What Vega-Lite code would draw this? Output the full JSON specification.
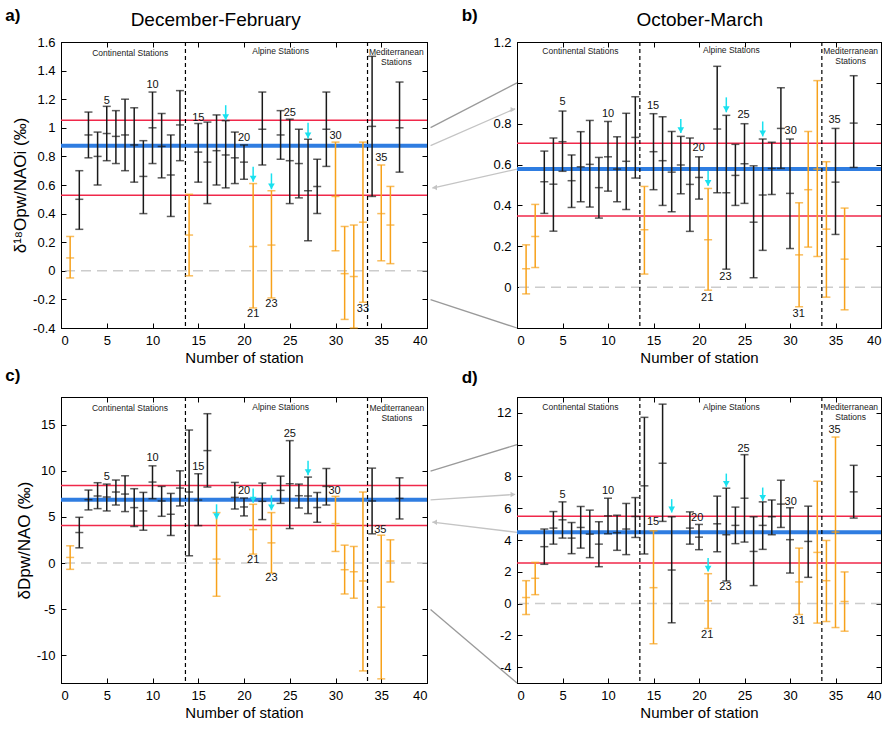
{
"$schema":"https://vega.github.io/schema/vega-lite/v6.json",
"autosize":{"type":"none"},
"padding":{"left":61,"top":42,"right":827,"bottom":689},
"background":"white",
"bounds":"flush",
"columns":2,
"spacing":{"row":69,"column":90},
"config":{
 "view":{"stroke":"#000","strokeWidth":1},
 "axis":{"tickSize":-5,"tickColor":"#000","domainColor":"#000","labelFont":"Liberation Sans","labelFontSize":13,"labelColor":"#000","titleFont":"Liberation Sans","titleFontSize":15,"titleFontWeight":"normal","titleColor":"#000","grid":false,"labelPadding":11,"titlePadding":3}
},
"datasets":{
 "a_b":[{"n":1,"lo":-0.05,"mid":0.09,"hi":0.24,"g":"o"},{"n":2,"lo":0.29,"mid":0.5,"hi":0.7,"g":"k"},{"n":3,"lo":0.79,"mid":0.95,"hi":1.11,"g":"k"},{"n":4,"lo":0.6,"mid":0.8,"hi":0.97,"g":"k"},{"n":5,"lo":0.77,"mid":0.96,"hi":1.15,"g":"k"},{"n":6,"lo":0.75,"mid":0.94,"hi":1.12,"g":"k"},{"n":7,"lo":0.7,"mid":0.95,"hi":1.2,"g":"k"},{"n":8,"lo":0.62,"mid":0.88,"hi":1.14,"g":"k"},{"n":9,"lo":0.4,"mid":0.66,"hi":0.91,"g":"k"},{"n":10,"lo":0.75,"mid":1.0,"hi":1.25,"g":"k"},{"n":11,"lo":0.65,"mid":0.87,"hi":1.1,"g":"k"},{"n":12,"lo":0.38,"mid":0.67,"hi":0.95,"g":"k"},{"n":13,"lo":0.77,"mid":1.02,"hi":1.26,"g":"k"},{"n":14,"lo":-0.035,"mid":0.25,"hi":0.535,"g":"o"},{"n":15,"lo":0.62,"mid":0.83,"hi":1.03,"g":"k"},{"n":16,"lo":0.47,"mid":0.76,"hi":1.04,"g":"k"},{"n":17,"lo":0.6,"mid":0.84,"hi":1.09,"g":"k"},{"n":18,"lo":0.58,"mid":0.81,"hi":1.05,"g":"k"},{"n":19,"lo":0.61,"mid":0.79,"hi":0.97,"g":"k"},{"n":20,"lo":0.64,"mid":0.76,"hi":0.88,"g":"k"},{"n":21,"lo":-0.26,"mid":0.17,"hi":0.61,"g":"o"},{"n":22,"lo":0.74,"mid":0.99,"hi":1.25,"g":"k"},{"n":23,"lo":-0.19,"mid":0.18,"hi":0.56,"g":"o"},{"n":24,"lo":0.78,"mid":0.95,"hi":1.12,"g":"k"},{"n":25,"lo":0.47,"mid":0.77,"hi":1.06,"g":"k"},{"n":26,"lo":0.51,"mid":0.75,"hi":0.99,"g":"k"},{"n":27,"lo":0.21,"mid":0.56,"hi":0.92,"g":"k"},{"n":28,"lo":0.4,"mid":0.59,"hi":0.78,"g":"k"},{"n":29,"lo":0.73,"mid":0.99,"hi":1.25,"g":"k"},{"n":30,"lo":0.14,"mid":0.52,"hi":0.9,"g":"o"},{"n":31,"lo":-0.34,"mid":-0.02,"hi":0.31,"g":"o"},{"n":32,"lo":-0.4,"mid":-0.04,"hi":0.32,"g":"o"},{"n":33,"lo":-0.22,"mid":0.34,"hi":0.9,"g":"o"},{"n":34,"lo":0.52,"mid":1.01,"hi":1.5,"g":"k"},{"n":35,"lo":0.07,"mid":0.4,"hi":0.74,"g":"o"},{"n":36,"lo":0.05,"mid":0.32,"hi":0.59,"g":"o"},{"n":37,"lo":0.69,"mid":1.0,"hi":1.32,"g":"k"}],
 "a_h":[{"y":0,"t":"zero"},{"y":1.053,"t":"red"},{"y":0.528,"t":"red"},{"y":0.874,"t":"blue"}],
 "a_v":[{"x":13.6},{"x":33.5}],
 "a_l":[{"x":5,"y":1.19,"s":"5"},{"x":10,"y":1.3,"s":"10"},{"x":15,"y":1.07,"s":"15"},{"x":20,"y":0.93,"s":"20"},{"x":25,"y":1.105,"s":"25"},{"x":21,"y":-0.3,"s":"21"},{"x":23,"y":-0.23,"s":"23"},{"x":30,"y":0.944,"s":"30"},{"x":33,"y":-0.27,"s":"33"},{"x":35,"y":0.79,"s":"35"}],
 "a_a":[{"x":18,"y1":1.158,"y2":1.053},{"x":21,"y1":0.728,"y2":0.623},{"x":23,"y1":0.681,"y2":0.57},{"x":27,"y1":1.035,"y2":0.926}],
 "a_r":[{"x":7.56,"y":1.525,"s":"Continental Stations"},{"x":24.0,"y":1.535,"s":"Alpine Stations"},{"x":36.65,"y":1.53,"s":"Mediterranean"},{"x":36.65,"y":1.46,"s":"Stations"}],
 "b_b":[{"n":1,"lo":-0.033,"mid":0.09,"hi":0.207,"g":"o"},{"n":2,"lo":0.096,"mid":0.248,"hi":0.405,"g":"o"},{"n":3,"lo":0.361,"mid":0.516,"hi":0.666,"g":"k"},{"n":4,"lo":0.274,"mid":0.504,"hi":0.73,"g":"k"},{"n":5,"lo":0.567,"mid":0.712,"hi":0.862,"g":"k"},{"n":6,"lo":0.39,"mid":0.521,"hi":0.647,"g":"k"},{"n":7,"lo":0.418,"mid":0.589,"hi":0.761,"g":"k"},{"n":8,"lo":0.392,"mid":0.601,"hi":0.816,"g":"k"},{"n":9,"lo":0.338,"mid":0.487,"hi":0.635,"g":"k"},{"n":10,"lo":0.47,"mid":0.638,"hi":0.811,"g":"k"},{"n":11,"lo":0.418,"mid":0.578,"hi":0.736,"g":"k"},{"n":12,"lo":0.38,"mid":0.616,"hi":0.851,"g":"k"},{"n":13,"lo":0.534,"mid":0.733,"hi":0.932,"g":"k"},{"n":14,"lo":0.064,"mid":0.281,"hi":0.493,"g":"o"},{"n":15,"lo":0.477,"mid":0.663,"hi":0.849,"g":"k"},{"n":16,"lo":0.4,"mid":0.619,"hi":0.834,"g":"k"},{"n":17,"lo":0.369,"mid":0.563,"hi":0.762,"g":"k"},{"n":18,"lo":0.457,"mid":0.598,"hi":0.738,"g":"k"},{"n":19,"lo":0.273,"mid":0.503,"hi":0.73,"g":"k"},{"n":20,"lo":0.431,"mid":0.537,"hi":0.638,"g":"k"},{"n":21,"lo":-0.015,"mid":0.232,"hi":0.483,"g":"o"},{"n":22,"lo":0.462,"mid":0.774,"hi":1.081,"g":"k"},{"n":23,"lo":0.088,"mid":0.462,"hi":0.841,"g":"k"},{"n":24,"lo":0.4,"mid":0.547,"hi":0.699,"g":"k"},{"n":25,"lo":0.41,"mid":0.604,"hi":0.8,"g":"k"},{"n":26,"lo":0.046,"mid":0.318,"hi":0.594,"g":"k"},{"n":27,"lo":0.18,"mid":0.451,"hi":0.725,"g":"k"},{"n":28,"lo":0.454,"mid":0.581,"hi":0.709,"g":"k"},{"n":29,"lo":0.581,"mid":0.777,"hi":0.976,"g":"k"},{"n":30,"lo":0.189,"mid":0.459,"hi":0.725,"g":"k"},{"n":31,"lo":-0.096,"mid":0.158,"hi":0.413,"g":"o"},{"n":32,"lo":0.196,"mid":0.477,"hi":0.762,"g":"o"},{"n":33,"lo":0.15,"mid":0.578,"hi":1.011,"g":"o"},{"n":34,"lo":-0.049,"mid":0.284,"hi":0.614,"g":"o"},{"n":35,"lo":0.258,"mid":0.514,"hi":0.777,"g":"k"},{"n":36,"lo":-0.111,"mid":0.137,"hi":0.387,"g":"o"},{"n":37,"lo":0.586,"mid":0.803,"hi":1.035,"g":"k"}],
 "b_h":[{"y":0,"t":"zero"},{"y":0.704,"t":"red"},{"y":0.348,"t":"red"},{"y":0.578,"t":"blue"}],
 "b_v":[{"x":13.5},{"x":33.5}],
 "b_l":[{"x":5,"y":0.904,"s":"5"},{"x":10,"y":0.849,"s":"10"},{"x":14.95,"y":0.888,"s":"15"},{"x":19.96,"y":0.679,"s":"20"},{"x":24.9,"y":0.844,"s":"25"},{"x":20.9,"y":-0.054,"s":"21"},{"x":22.9,"y":0.049,"s":"23"},{"x":30.07,"y":0.766,"s":"30"},{"x":30.95,"y":-0.132,"s":"31"},{"x":34.9,"y":0.818,"s":"35"}],
 "b_a":[{"x":18,"y1":0.823,"y2":0.754},{"x":21,"y1":0.57,"y2":0.496},{"x":23,"y1":0.929,"y2":0.856},{"x":27,"y1":0.811,"y2":0.738}],
 "b_r":[{"x":6.96,"y":1.158,"s":"Continental Stations"},{"x":23.55,"y":1.159,"s":"Alpine Stations"},{"x":36.67,"y":1.158,"s":"Mediterranean"},{"x":36.67,"y":1.105,"s":"Stations"}],
 "b_gd":[{"x1":-9.5,"y1":0.781,"x2":0,"y2":1.0},{"x1":-9.5,"y1":-0.061,"x2":0,"y2":-0.2}],
 "b_gl":[{"x1":-9.5,"y1":0.693,"x2":-0.2,"y2":0.874},{"x1":0,"y1":0.578,"x2":-9.3,"y2":0.485}],
 "b_ghr":[{"x":-0.45,"y":0.869}],
 "b_ghl":[{"x":-9.05,"y":0.488}],
 "c_b":[{"n":1,"lo":-0.68,"mid":0.61,"hi":1.87,"g":"o"},{"n":2,"lo":1.65,"mid":3.31,"hi":4.96,"g":"k"},{"n":3,"lo":5.76,"mid":6.87,"hi":7.91,"g":"k"},{"n":4,"lo":5.9,"mid":7.27,"hi":8.71,"g":"k"},{"n":5,"lo":5.65,"mid":7.16,"hi":8.56,"g":"k"},{"n":6,"lo":6.29,"mid":7.7,"hi":9.0,"g":"k"},{"n":7,"lo":5.58,"mid":7.48,"hi":9.46,"g":"k"},{"n":8,"lo":3.96,"mid":6.01,"hi":8.06,"g":"k"},{"n":9,"lo":3.56,"mid":5.65,"hi":7.66,"g":"k"},{"n":10,"lo":6.98,"mid":8.78,"hi":10.54,"g":"k"},{"n":11,"lo":5.07,"mid":6.73,"hi":8.31,"g":"k"},{"n":12,"lo":2.99,"mid":5.29,"hi":7.55,"g":"k"},{"n":13,"lo":6.19,"mid":8.13,"hi":10.0,"g":"k"},{"n":14,"lo":0.79,"mid":7.7,"hi":14.42,"g":"k"},{"n":15,"lo":4.06,"mid":6.83,"hi":9.68,"g":"k"},{"n":16,"lo":8.24,"mid":12.19,"hi":16.19,"g":"k"},{"n":17,"lo":-3.6,"mid":0.43,"hi":5.47,"g":"o"},{"n":19,"lo":5.86,"mid":7.12,"hi":8.74,"g":"k"},{"n":20,"lo":5.11,"mid":6.08,"hi":7.05,"g":"k"},{"n":21,"lo":0.97,"mid":3.63,"hi":6.37,"g":"o"},{"n":22,"lo":4.71,"mid":6.69,"hi":8.67,"g":"k"},{"n":23,"lo":-1.08,"mid":2.19,"hi":5.47,"g":"o"},{"n":24,"lo":6.47,"mid":7.88,"hi":9.42,"g":"k"},{"n":25,"lo":3.74,"mid":8.6,"hi":13.27,"g":"k"},{"n":26,"lo":5.97,"mid":7.3,"hi":8.56,"g":"k"},{"n":27,"lo":5.36,"mid":7.27,"hi":9.32,"g":"k"},{"n":28,"lo":4.42,"mid":6.01,"hi":7.66,"g":"k"},{"n":29,"lo":6.29,"mid":8.31,"hi":10.25,"g":"k"},{"n":30,"lo":1.26,"mid":4.28,"hi":7.23,"g":"o"},{"n":31,"lo":-3.35,"mid":-0.72,"hi":1.94,"g":"o"},{"n":32,"lo":-3.81,"mid":-0.94,"hi":1.8,"g":"o"},{"n":33,"lo":-11.69,"mid":-1.94,"hi":7.7,"g":"o"},{"n":34,"lo":3.17,"mid":6.73,"hi":10.29,"g":"k"},{"n":35,"lo":-12.55,"mid":-4.78,"hi":3.02,"g":"o"},{"n":36,"lo":-2.05,"mid":0.22,"hi":2.52,"g":"o"},{"n":37,"lo":4.78,"mid":7.01,"hi":9.24,"g":"k"}],
 "c_h":[{"y":0,"t":"zero"},{"y":8.42,"t":"red"},{"y":4.06,"t":"red"},{"y":6.87,"t":"blue"}],
 "c_v":[{"x":13.6},{"x":33.5}],
 "c_l":[{"x":5,"y":9.35,"s":"5"},{"x":10,"y":11.44,"s":"10"},{"x":15,"y":10.43,"s":"15"},{"x":20,"y":7.8,"s":"20"},{"x":25,"y":14.03,"s":"25"},{"x":21,"y":0.32,"s":"21"},{"x":23,"y":-1.65,"s":"23"},{"x":29.9,"y":7.8,"s":"30"},{"x":34.9,"y":3.6,"s":"35"}],
 "c_a":[{"x":17,"y1":6.37,"y2":4.75},{"x":21,"y1":8.09,"y2":6.55},{"x":23,"y1":7.34,"y2":5.72},{"x":27,"y1":11.1,"y2":9.53}],
 "c_r":[{"x":7.54,"y":16.8,"s":"Continental Stations"},{"x":24.0,"y":16.94,"s":"Alpine Stations"},{"x":36.7,"y":16.8,"s":"Mediterranean"},{"x":36.7,"y":15.72,"s":"Stations"}],
 "d_b":[{"n":1,"lo":-0.69,"mid":0.38,"hi":1.44,"g":"o"},{"n":2,"lo":0.56,"mid":1.59,"hi":2.59,"g":"o"},{"n":3,"lo":2.47,"mid":3.58,"hi":4.69,"g":"k"},{"n":4,"lo":3.74,"mid":4.75,"hi":5.79,"g":"k"},{"n":5,"lo":4.12,"mid":5.27,"hi":6.4,"g":"k"},{"n":6,"lo":3.14,"mid":4.12,"hi":5.1,"g":"k"},{"n":7,"lo":3.49,"mid":4.79,"hi":6.11,"g":"k"},{"n":8,"lo":2.89,"mid":4.37,"hi":5.88,"g":"k"},{"n":9,"lo":2.32,"mid":3.74,"hi":5.15,"g":"k"},{"n":10,"lo":4.39,"mid":5.52,"hi":6.63,"g":"k"},{"n":11,"lo":3.35,"mid":4.46,"hi":5.56,"g":"k"},{"n":12,"lo":3.08,"mid":4.69,"hi":6.3,"g":"k"},{"n":13,"lo":4.16,"mid":5.48,"hi":6.67,"g":"k"},{"n":14,"lo":3.12,"mid":7.41,"hi":11.72,"g":"k"},{"n":15,"lo":-2.53,"mid":1.0,"hi":4.58,"g":"o"},{"n":16,"lo":5.17,"mid":8.83,"hi":12.55,"g":"k"},{"n":17,"lo":-1.21,"mid":2.11,"hi":5.46,"g":"k"},{"n":19,"lo":3.74,"mid":4.75,"hi":5.77,"g":"k"},{"n":20,"lo":3.39,"mid":4.18,"hi":4.98,"g":"k"},{"n":21,"lo":-1.57,"mid":0.17,"hi":1.88,"g":"o"},{"n":22,"lo":3.26,"mid":5.02,"hi":6.76,"g":"k"},{"n":23,"lo":1.42,"mid":4.33,"hi":7.26,"g":"k"},{"n":24,"lo":3.77,"mid":4.92,"hi":6.07,"g":"k"},{"n":25,"lo":3.87,"mid":6.63,"hi":9.37,"g":"k"},{"n":26,"lo":1.13,"mid":3.28,"hi":5.46,"g":"k"},{"n":27,"lo":3.41,"mid":4.92,"hi":6.4,"g":"k"},{"n":28,"lo":4.33,"mid":5.46,"hi":6.51,"g":"k"},{"n":29,"lo":4.79,"mid":6.26,"hi":7.76,"g":"k"},{"n":30,"lo":1.92,"mid":4.02,"hi":6.03,"g":"k"},{"n":31,"lo":-0.69,"mid":1.36,"hi":3.49,"g":"o"},{"n":32,"lo":1.65,"mid":3.91,"hi":6.13,"g":"k"},{"n":33,"lo":-1.23,"mid":3.22,"hi":7.7,"g":"o"},{"n":34,"lo":-1.13,"mid":1.44,"hi":3.97,"g":"o"},{"n":35,"lo":-1.51,"mid":4.5,"hi":10.48,"g":"o"},{"n":36,"lo":-1.74,"mid":0.13,"hi":1.99,"g":"o"},{"n":37,"lo":5.38,"mid":7.03,"hi":8.7,"g":"k"}],
 "d_h":[{"y":0,"t":"zero"},{"y":5.5,"t":"red"},{"y":2.55,"t":"red"},{"y":4.48,"t":"blue"}],
 "d_v":[{"x":13.5},{"x":33.5}],
 "d_l":[{"x":5,"y":6.82,"s":"5"},{"x":10,"y":7.09,"s":"10"},{"x":14.95,"y":5.15,"s":"15"},{"x":19.8,"y":5.4,"s":"20"},{"x":24.9,"y":9.75,"s":"25"},{"x":20.9,"y":-1.99,"s":"21"},{"x":22.9,"y":1.03,"s":"23"},{"x":30.07,"y":6.42,"s":"30"},{"x":30.95,"y":-1.11,"s":"31"},{"x":34.9,"y":10.9,"s":"35"}],
 "d_a":[{"x":17,"y1":6.57,"y2":5.73},{"x":21,"y1":2.87,"y2":2.01},{"x":23,"y1":8.18,"y2":7.34},{"x":27,"y1":7.3,"y2":6.46}],
 "d_r":[{"x":6.96,"y":12.38,"s":"Continental Stations"},{"x":23.55,"y":12.38,"s":"Alpine Stations"},{"x":36.67,"y":12.38,"s":"Mediterranean"},{"x":36.67,"y":11.76,"s":"Stations"}],
 "d_gd":[{"x1":-9.5,"y1":8.34,"x2":0,"y2":10},{"x1":-9.5,"y1":-0.38,"x2":0,"y2":-5}],
 "d_gl":[{"x1":-9.5,"y1":6.52,"x2":-0.2,"y2":6.87},{"x1":0,"y1":4.48,"x2":-9.3,"y2":5.13}],
 "d_ghr":[{"x":-0.45,"y":6.86}],
 "d_ghl":[{"x":-9.05,"y":5.12}]
},
"concat":[
{"width":366,"height":286,"resolve":{"axis":{"x":"independent","y":"independent"}},
"layer":[
 {"data":{"name":"a_h"},"transform":[{"filter":"datum.t=='zero'"}],"mark":{"type":"rule","color":"#cccccc","strokeWidth":1.5,"strokeDash":[10,6]},"encoding":{"y":{"field":"y","type":"quantitative","axis":null}}},
 {"data":{"name":"a_h"},"transform":[{"filter":"datum.t=='red'"}],"mark":{"type":"rule","color":"#f0284a","strokeWidth":1.5},"encoding":{"y":{"field":"y","type":"quantitative","axis":null}}},
 {"data":{"name":"a_h"},"transform":[{"filter":"datum.t=='blue'"}],"mark":{"type":"rule","color":"#2f7de1","strokeWidth":4},"encoding":{"y":{"field":"y","type":"quantitative","axis":null}}},
 {"data":{"name":"a_v"},"mark":{"type":"rule","color":"#000","strokeWidth":1.2,"strokeDash":[4,3]},"encoding":{"x":{"field":"x","type":"quantitative","axis":null}}},
 {"data":{"name":"a_b"},"mark":{"type":"rule","strokeWidth":1.5},"encoding":{"x":{"field":"n","type":"quantitative","scale":{"domain":[0,40],"nice":false},"axis":{"values":[0,5,10,15,20,25,30,35,40],"title":"Number of station"}},"y":{"field":"lo","type":"quantitative","scale":{"domain":[-0.4,1.6],"nice":false},"axis":{"values":[-0.4,-0.2,0,0.2,0.4,0.6,0.8,1,1.2,1.4,1.6],"labelExpr":"''+datum.value","title":"δ¹⁸Opw/NAOi (‰)","titleFontSize":17}},"y2":{"field":"hi"},"color":{"field":"g","type":"nominal","scale":{"domain":["k","o"],"range":["#1a1a1a","#f7a11a"]},"legend":null}}},
 {"data":{"name":"a_b"},"mark":{"type":"tick","orient":"horizontal","size":8,"thickness":1.5},"encoding":{"x":{"field":"n","type":"quantitative","axis":null},"y":{"field":"lo","type":"quantitative","axis":null},"color":{"field":"g","type":"nominal","legend":null}}},
 {"data":{"name":"a_b"},"mark":{"type":"tick","orient":"horizontal","size":8,"thickness":1.5},"encoding":{"x":{"field":"n","type":"quantitative","axis":null},"y":{"field":"hi","type":"quantitative","axis":null},"color":{"field":"g","type":"nominal","legend":null}}},
 {"data":{"name":"a_b"},"mark":{"type":"tick","orient":"horizontal","size":8,"thickness":1.5},"encoding":{"x":{"field":"n","type":"quantitative","axis":{"orient":"top","values":[0,5,10,15,20,25,30,35,40],"labels":false,"title":null}},"y":{"field":"mid","type":"quantitative","axis":{"orient":"right","values":[-0.4,-0.2,0,0.2,0.4,0.6,0.8,1,1.2,1.4,1.6],"labels":false,"title":null}},"color":{"field":"g","type":"nominal","legend":null}}},
 {"data":{"name":"a_a"},"mark":{"type":"rule","color":"#19e1ef","strokeWidth":1.5},"encoding":{"x":{"field":"x","type":"quantitative","axis":null},"y":{"field":"y1","type":"quantitative","axis":null},"y2":{"field":"y2"}}},
 {"data":{"name":"a_a"},"mark":{"type":"point","shape":"triangle-down","filled":true,"color":"#19e1ef","opacity":1,"size":45,"yOffset":-3},"encoding":{"x":{"field":"x","type":"quantitative","axis":null},"y":{"field":"y2","type":"quantitative","axis":null}}},
 {"data":{"name":"a_l"},"mark":{"type":"text","font":"Liberation Sans","fontSize":11,"color":"#111","clip":false},"encoding":{"x":{"field":"x","type":"quantitative","axis":null},"y":{"field":"y","type":"quantitative","axis":null},"text":{"field":"s"}}},
 {"data":{"name":"a_r"},"mark":{"type":"text","font":"Liberation Sans","fontSize":8.5,"color":"#222","clip":false},"encoding":{"x":{"field":"x","type":"quantitative","axis":null},"y":{"field":"y","type":"quantitative","axis":null},"text":{"field":"s"}}},
 {"data":{"values":[{"x":-6.1,"y":1.78,"s":"a)"}]},"mark":{"type":"text","font":"Liberation Sans","fontSize":17,"fontWeight":"bold","align":"left","color":"#000","clip":false},"encoding":{"x":{"field":"x","type":"quantitative","axis":null},"y":{"field":"y","type":"quantitative","axis":null},"text":{"field":"s"}}},
 {"data":{"values":[{"x":16.9,"y":1.754,"s":"December-February"}]},"mark":{"type":"text","font":"Liberation Sans","fontSize":19,"color":"#000","clip":false},"encoding":{"x":{"field":"x","type":"quantitative","axis":null},"y":{"field":"y","type":"quantitative","axis":null},"text":{"field":"s"}}}
]},
{"width":364,"height":286,"resolve":{"axis":{"x":"independent","y":"independent"}},
"layer":[
 {"data":{"name":"b_gd"},"mark":{"type":"rule","color":"#9a9a9a","strokeWidth":1.3,"clip":false},"encoding":{"x":{"field":"x1","type":"quantitative","axis":null},"x2":{"field":"x2"},"y":{"field":"y1","type":"quantitative","axis":null},"y2":{"field":"y2"}}},
 {"data":{"name":"b_gl"},"mark":{"type":"rule","color":"#c4c4c4","strokeWidth":1.3,"clip":false},"encoding":{"x":{"field":"x1","type":"quantitative","axis":null},"x2":{"field":"x2"},"y":{"field":"y1","type":"quantitative","axis":null},"y2":{"field":"y2"}}},
 {"data":{"name":"b_ghr"},"mark":{"type":"point","shape":"triangle-right","filled":true,"color":"#c4c4c4","opacity":1,"size":30,"clip":false},"encoding":{"x":{"field":"x","type":"quantitative","axis":null},"y":{"field":"y","type":"quantitative","axis":null}}},
 {"data":{"name":"b_ghl"},"mark":{"type":"point","shape":"triangle-left","filled":true,"color":"#c4c4c4","opacity":1,"size":30,"clip":false},"encoding":{"x":{"field":"x","type":"quantitative","axis":null},"y":{"field":"y","type":"quantitative","axis":null}}},
 {"data":{"name":"b_h"},"transform":[{"filter":"datum.t=='zero'"}],"mark":{"type":"rule","color":"#cccccc","strokeWidth":1.5,"strokeDash":[10,6]},"encoding":{"y":{"field":"y","type":"quantitative","axis":null}}},
 {"data":{"name":"b_h"},"transform":[{"filter":"datum.t=='red'"}],"mark":{"type":"rule","color":"#f0284a","strokeWidth":1.5},"encoding":{"y":{"field":"y","type":"quantitative","axis":null}}},
 {"data":{"name":"b_h"},"transform":[{"filter":"datum.t=='blue'"}],"mark":{"type":"rule","color":"#2f7de1","strokeWidth":4},"encoding":{"y":{"field":"y","type":"quantitative","axis":null}}},
 {"data":{"name":"b_v"},"mark":{"type":"rule","color":"#000","strokeWidth":1.2,"strokeDash":[4,3]},"encoding":{"x":{"field":"x","type":"quantitative","axis":null}}},
 {"data":{"name":"b_b"},"mark":{"type":"rule","strokeWidth":1.5},"encoding":{"x":{"field":"n","type":"quantitative","scale":{"domain":[0,40],"nice":false},"axis":{"values":[0,5,10,15,20,25,30,35,40],"title":"Number of station"}},"y":{"field":"lo","type":"quantitative","scale":{"domain":[-0.2,1.2],"nice":false},"axis":{"values":[-0.2,0,0.2,0.4,0.6,0.8,1,1.2],"labelExpr":"datum.value==1||datum.value==-0.2?'':''+datum.value","title":null}},"y2":{"field":"hi"},"color":{"field":"g","type":"nominal","scale":{"domain":["k","o"],"range":["#1a1a1a","#f7a11a"]},"legend":null}}},
 {"data":{"name":"b_b"},"mark":{"type":"tick","orient":"horizontal","size":8,"thickness":1.5},"encoding":{"x":{"field":"n","type":"quantitative","axis":null},"y":{"field":"lo","type":"quantitative","axis":null},"color":{"field":"g","type":"nominal","legend":null}}},
 {"data":{"name":"b_b"},"mark":{"type":"tick","orient":"horizontal","size":8,"thickness":1.5},"encoding":{"x":{"field":"n","type":"quantitative","axis":null},"y":{"field":"hi","type":"quantitative","axis":null},"color":{"field":"g","type":"nominal","legend":null}}},
 {"data":{"name":"b_b"},"mark":{"type":"tick","orient":"horizontal","size":8,"thickness":1.5},"encoding":{"x":{"field":"n","type":"quantitative","axis":{"orient":"top","values":[0,5,10,15,20,25,30,35,40],"labels":false,"title":null}},"y":{"field":"mid","type":"quantitative","axis":{"orient":"right","values":[-0.2,0,0.2,0.4,0.6,0.8,1,1.2],"labels":false,"title":null}},"color":{"field":"g","type":"nominal","legend":null}}},
 {"data":{"name":"b_a"},"mark":{"type":"rule","color":"#19e1ef","strokeWidth":1.5},"encoding":{"x":{"field":"x","type":"quantitative","axis":null},"y":{"field":"y1","type":"quantitative","axis":null},"y2":{"field":"y2"}}},
 {"data":{"name":"b_a"},"mark":{"type":"point","shape":"triangle-down","filled":true,"color":"#19e1ef","opacity":1,"size":45,"yOffset":-3},"encoding":{"x":{"field":"x","type":"quantitative","axis":null},"y":{"field":"y2","type":"quantitative","axis":null}}},
 {"data":{"name":"b_l"},"mark":{"type":"text","font":"Liberation Sans","fontSize":11,"color":"#111","clip":false},"encoding":{"x":{"field":"x","type":"quantitative","axis":null},"y":{"field":"y","type":"quantitative","axis":null},"text":{"field":"s"}}},
 {"data":{"name":"b_r"},"mark":{"type":"text","font":"Liberation Sans","fontSize":8.5,"color":"#222","clip":false},"encoding":{"x":{"field":"x","type":"quantitative","axis":null},"y":{"field":"y","type":"quantitative","axis":null},"text":{"field":"s"}}},
 {"data":{"values":[{"x":-6.08,"y":1.329,"s":"b)"}]},"mark":{"type":"text","font":"Liberation Sans","fontSize":17,"fontWeight":"bold","align":"left","color":"#000","clip":false},"encoding":{"x":{"field":"x","type":"quantitative","axis":null},"y":{"field":"y","type":"quantitative","axis":null},"text":{"field":"s"}}},
 {"data":{"values":[{"x":20.08,"y":1.308,"s":"October-March"}]},"mark":{"type":"text","font":"Liberation Sans","fontSize":19,"color":"#000","clip":false},"encoding":{"x":{"field":"x","type":"quantitative","axis":null},"y":{"field":"y","type":"quantitative","axis":null},"text":{"field":"s"}}}
]},
{"width":366,"height":286,"resolve":{"axis":{"x":"independent","y":"independent"}},
"layer":[
 {"data":{"name":"c_h"},"transform":[{"filter":"datum.t=='zero'"}],"mark":{"type":"rule","color":"#cccccc","strokeWidth":1.5,"strokeDash":[10,6]},"encoding":{"y":{"field":"y","type":"quantitative","axis":null}}},
 {"data":{"name":"c_h"},"transform":[{"filter":"datum.t=='red'"}],"mark":{"type":"rule","color":"#f0284a","strokeWidth":1.5},"encoding":{"y":{"field":"y","type":"quantitative","axis":null}}},
 {"data":{"name":"c_h"},"transform":[{"filter":"datum.t=='blue'"}],"mark":{"type":"rule","color":"#2f7de1","strokeWidth":4},"encoding":{"y":{"field":"y","type":"quantitative","axis":null}}},
 {"data":{"name":"c_v"},"mark":{"type":"rule","color":"#000","strokeWidth":1.2,"strokeDash":[4,3]},"encoding":{"x":{"field":"x","type":"quantitative","axis":null}}},
 {"data":{"name":"c_b"},"mark":{"type":"rule","strokeWidth":1.5},"encoding":{"x":{"field":"n","type":"quantitative","scale":{"domain":[0,40],"nice":false},"axis":{"values":[0,5,10,15,20,25,30,35,40],"title":"Number of station"}},"y":{"field":"lo","type":"quantitative","scale":{"domain":[-13,18],"nice":false},"axis":{"values":[-10,-5,0,5,10,15],"labelExpr":"''+datum.value","title":"δDpw/NAO (‰)","titleFontSize":17}},"y2":{"field":"hi"},"color":{"field":"g","type":"nominal","scale":{"domain":["k","o"],"range":["#1a1a1a","#f7a11a"]},"legend":null}}},
 {"data":{"name":"c_b"},"mark":{"type":"tick","orient":"horizontal","size":8,"thickness":1.5},"encoding":{"x":{"field":"n","type":"quantitative","axis":null},"y":{"field":"lo","type":"quantitative","axis":null},"color":{"field":"g","type":"nominal","legend":null}}},
 {"data":{"name":"c_b"},"mark":{"type":"tick","orient":"horizontal","size":8,"thickness":1.5},"encoding":{"x":{"field":"n","type":"quantitative","axis":null},"y":{"field":"hi","type":"quantitative","axis":null},"color":{"field":"g","type":"nominal","legend":null}}},
 {"data":{"name":"c_b"},"mark":{"type":"tick","orient":"horizontal","size":8,"thickness":1.5},"encoding":{"x":{"field":"n","type":"quantitative","axis":{"orient":"top","values":[0,5,10,15,20,25,30,35,40],"labels":false,"title":null}},"y":{"field":"mid","type":"quantitative","axis":{"orient":"right","values":[-10,-5,0,5,10,15],"labels":false,"title":null}},"color":{"field":"g","type":"nominal","legend":null}}},
 {"data":{"name":"c_a"},"mark":{"type":"rule","color":"#19e1ef","strokeWidth":1.5},"encoding":{"x":{"field":"x","type":"quantitative","axis":null},"y":{"field":"y1","type":"quantitative","axis":null},"y2":{"field":"y2"}}},
 {"data":{"name":"c_a"},"mark":{"type":"point","shape":"triangle-down","filled":true,"color":"#19e1ef","opacity":1,"size":45,"yOffset":-3},"encoding":{"x":{"field":"x","type":"quantitative","axis":null},"y":{"field":"y2","type":"quantitative","axis":null}}},
 {"data":{"name":"c_l"},"mark":{"type":"text","font":"Liberation Sans","fontSize":11,"color":"#111","clip":false},"encoding":{"x":{"field":"x","type":"quantitative","axis":null},"y":{"field":"y","type":"quantitative","axis":null},"text":{"field":"s"}}},
 {"data":{"name":"c_r"},"mark":{"type":"text","font":"Liberation Sans","fontSize":8.5,"color":"#222","clip":false},"encoding":{"x":{"field":"x","type":"quantitative","axis":null},"y":{"field":"y","type":"quantitative","axis":null},"text":{"field":"s"}}},
 {"data":{"values":[{"x":-6.1,"y":20.27,"s":"c)"}]},"mark":{"type":"text","font":"Liberation Sans","fontSize":17,"fontWeight":"bold","align":"left","color":"#000","clip":false},"encoding":{"x":{"field":"x","type":"quantitative","axis":null},"y":{"field":"y","type":"quantitative","axis":null},"text":{"field":"s"}}}
]},
{"width":364,"height":286,"resolve":{"axis":{"x":"independent","y":"independent"}},
"layer":[
 {"data":{"name":"d_gd"},"mark":{"type":"rule","color":"#9a9a9a","strokeWidth":1.3,"clip":false},"encoding":{"x":{"field":"x1","type":"quantitative","axis":null},"x2":{"field":"x2"},"y":{"field":"y1","type":"quantitative","axis":null},"y2":{"field":"y2"}}},
 {"data":{"name":"d_gl"},"mark":{"type":"rule","color":"#c4c4c4","strokeWidth":1.3,"clip":false},"encoding":{"x":{"field":"x1","type":"quantitative","axis":null},"x2":{"field":"x2"},"y":{"field":"y1","type":"quantitative","axis":null},"y2":{"field":"y2"}}},
 {"data":{"name":"d_ghr"},"mark":{"type":"point","shape":"triangle-right","filled":true,"color":"#c4c4c4","opacity":1,"size":30,"clip":false},"encoding":{"x":{"field":"x","type":"quantitative","axis":null},"y":{"field":"y","type":"quantitative","axis":null}}},
 {"data":{"name":"d_ghl"},"mark":{"type":"point","shape":"triangle-left","filled":true,"color":"#c4c4c4","opacity":1,"size":30,"clip":false},"encoding":{"x":{"field":"x","type":"quantitative","axis":null},"y":{"field":"y","type":"quantitative","axis":null}}},
 {"data":{"name":"d_h"},"transform":[{"filter":"datum.t=='zero'"}],"mark":{"type":"rule","color":"#cccccc","strokeWidth":1.5,"strokeDash":[10,6]},"encoding":{"y":{"field":"y","type":"quantitative","axis":null}}},
 {"data":{"name":"d_h"},"transform":[{"filter":"datum.t=='red'"}],"mark":{"type":"rule","color":"#f0284a","strokeWidth":1.5},"encoding":{"y":{"field":"y","type":"quantitative","axis":null}}},
 {"data":{"name":"d_h"},"transform":[{"filter":"datum.t=='blue'"}],"mark":{"type":"rule","color":"#2f7de1","strokeWidth":4},"encoding":{"y":{"field":"y","type":"quantitative","axis":null}}},
 {"data":{"name":"d_v"},"mark":{"type":"rule","color":"#000","strokeWidth":1.2,"strokeDash":[4,3]},"encoding":{"x":{"field":"x","type":"quantitative","axis":null}}},
 {"data":{"name":"d_b"},"mark":{"type":"rule","strokeWidth":1.5},"encoding":{"x":{"field":"n","type":"quantitative","scale":{"domain":[0,40],"nice":false},"axis":{"values":[0,5,10,15,20,25,30,35,40],"title":"Number of station"}},"y":{"field":"lo","type":"quantitative","scale":{"domain":[-5,13],"nice":false},"axis":{"values":[-4,-2,0,2,4,6,8,10,12],"labelExpr":"datum.value==10?'':''+datum.value","title":null}},"y2":{"field":"hi"},"color":{"field":"g","type":"nominal","scale":{"domain":["k","o"],"range":["#1a1a1a","#f7a11a"]},"legend":null}}},
 {"data":{"name":"d_b"},"mark":{"type":"tick","orient":"horizontal","size":8,"thickness":1.5},"encoding":{"x":{"field":"n","type":"quantitative","axis":null},"y":{"field":"lo","type":"quantitative","axis":null},"color":{"field":"g","type":"nominal","legend":null}}},
 {"data":{"name":"d_b"},"mark":{"type":"tick","orient":"horizontal","size":8,"thickness":1.5},"encoding":{"x":{"field":"n","type":"quantitative","axis":null},"y":{"field":"hi","type":"quantitative","axis":null},"color":{"field":"g","type":"nominal","legend":null}}},
 {"data":{"name":"d_b"},"mark":{"type":"tick","orient":"horizontal","size":8,"thickness":1.5},"encoding":{"x":{"field":"n","type":"quantitative","axis":{"orient":"top","values":[0,5,10,15,20,25,30,35,40],"labels":false,"title":null}},"y":{"field":"mid","type":"quantitative","axis":{"orient":"right","values":[-4,-2,0,2,4,6,8,10,12],"labels":false,"title":null}},"color":{"field":"g","type":"nominal","legend":null}}},
 {"data":{"name":"d_a"},"mark":{"type":"rule","color":"#19e1ef","strokeWidth":1.5},"encoding":{"x":{"field":"x","type":"quantitative","axis":null},"y":{"field":"y1","type":"quantitative","axis":null},"y2":{"field":"y2"}}},
 {"data":{"name":"d_a"},"mark":{"type":"point","shape":"triangle-down","filled":true,"color":"#19e1ef","opacity":1,"size":45,"yOffset":-3},"encoding":{"x":{"field":"x","type":"quantitative","axis":null},"y":{"field":"y2","type":"quantitative","axis":null}}},
 {"data":{"name":"d_l"},"mark":{"type":"text","font":"Liberation Sans","fontSize":11,"color":"#111","clip":false},"encoding":{"x":{"field":"x","type":"quantitative","axis":null},"y":{"field":"y","type":"quantitative","axis":null},"text":{"field":"s"}}},
 {"data":{"name":"d_r"},"mark":{"type":"text","font":"Liberation Sans","fontSize":8.5,"color":"#222","clip":false},"encoding":{"x":{"field":"x","type":"quantitative","axis":null},"y":{"field":"y","type":"quantitative","axis":null},"text":{"field":"s"}}},
 {"data":{"values":[{"x":-6.08,"y":14.19,"s":"d)"}]},"mark":{"type":"text","font":"Liberation Sans","fontSize":17,"fontWeight":"bold","align":"left","color":"#000","clip":false},"encoding":{"x":{"field":"x","type":"quantitative","axis":null},"y":{"field":"y","type":"quantitative","axis":null},"text":{"field":"s"}}}
]}
]
}
